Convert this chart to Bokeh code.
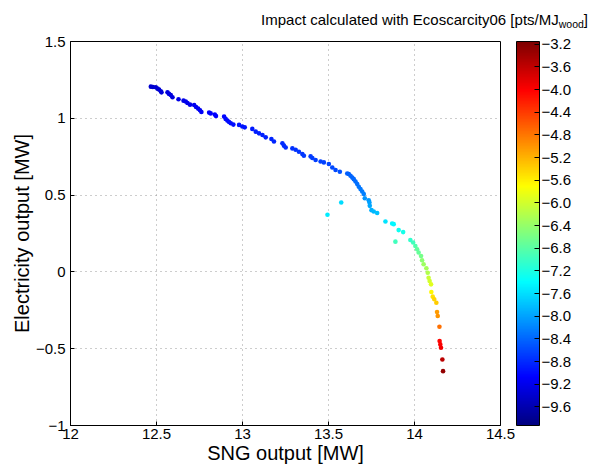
import numpy as np
from bokeh.plotting import figure
from bokeh.layouts import column
from bokeh.models import (ColumnDataSource, LinearColorMapper, ColorBar, FixedTicker,
                          CustomJSTickFormatter, Range1d, Div)
from bokeh.transform import transform
from bokeh.embed import file_html
from bokeh.resources import INLINE

# ---------------- data ----------------
sng_output = [
    12.467, 12.479, 12.496, 12.506, 12.515, 12.525, 12.529, 12.564, 12.573, 12.583,
    12.593, 12.628, 12.657, 12.670, 12.680, 12.695, 12.719, 12.730, 12.742, 12.753,
    12.761, 12.806, 12.815, 12.839, 12.846, 12.893, 12.902, 12.912, 12.922, 12.932,
    12.947, 12.980, 12.999, 13.013, 13.057, 13.077, 13.096, 13.116, 13.135, 13.168,
    13.183, 13.232, 13.241, 13.251, 13.290, 13.309, 13.328, 13.348, 13.357, 13.396,
    13.406, 13.425, 13.454, 13.473, 13.502, 13.522, 13.541, 13.566, 13.609, 13.618,
    13.628, 13.638, 13.647, 13.657, 13.667, 13.676, 13.686, 13.696, 13.705, 13.711,
    13.734, 13.738, 13.740, 13.750, 13.763, 13.783, 13.831, 13.870, 13.879, 13.908,
    13.934, 13.494, 13.574, 13.889, 13.976, 13.992, 14.005, 14.015, 14.024, 14.038,
    14.044, 14.053, 14.069, 14.077, 14.082, 14.088, 14.096, 14.098, 14.106, 14.115,
    14.127, 14.131, 14.135, 14.145, 14.146, 14.150, 14.154, 14.162, 14.166,
]
electricity_output = [
    1.206, 1.204, 1.202, 1.193, 1.187, 1.176, 1.169, 1.169, 1.159, 1.152,
    1.137, 1.124, 1.115, 1.109, 1.100, 1.089, 1.087, 1.074, 1.063, 1.052,
    1.041, 1.037, 1.032, 1.024, 1.015, 1.011, 0.996, 0.985, 0.976, 0.968,
    0.959, 0.957, 0.947, 0.941, 0.931, 0.913, 0.902, 0.891, 0.876, 0.865,
    0.849, 0.837, 0.822, 0.810, 0.804, 0.795, 0.782, 0.767, 0.756, 0.752,
    0.741, 0.728, 0.719, 0.713, 0.702, 0.680, 0.663, 0.652, 0.641, 0.637,
    0.626, 0.615, 0.604, 0.589, 0.572, 0.554, 0.539, 0.523, 0.507, 0.480,
    0.467, 0.452, 0.430, 0.402, 0.393, 0.383, 0.328, 0.315, 0.311, 0.272,
    0.259, 0.372, 0.452, 0.197, 0.208, 0.191, 0.169, 0.148, 0.126, 0.104,
    0.076, 0.050, 0.024, -0.005, -0.038, -0.059, -0.081, -0.131, -0.161, -0.178,
    -0.201, -0.261, -0.287, -0.357, -0.450, -0.472, -0.494, -0.570, -0.646,
]
impact = [
    -9.40, -9.38, -9.37, -9.36, -9.35, -9.34, -9.33, -9.30, -9.29, -9.28,
    -9.27, -9.24, -9.22, -9.21, -9.20, -9.19, -9.17, -9.16, -9.15, -9.14,
    -9.13, -9.10, -9.09, -9.07, -9.06, -9.03, -9.02, -9.01, -9.00, -8.99,
    -8.98, -8.95, -8.94, -8.93, -8.90, -8.88, -8.87, -8.86, -8.85, -8.83,
    -8.82, -8.79, -8.78, -8.77, -8.75, -8.74, -8.73, -8.72, -8.71, -8.69,
    -8.68, -8.67, -8.65, -8.64, -8.62, -8.60, -8.58, -8.55, -8.45, -8.44,
    -8.42, -8.40, -8.38, -8.36, -8.34, -8.31, -8.28, -8.25, -8.22, -8.10,
    -8.05, -8.00, -7.95, -7.90, -7.85, -7.80, -7.55, -7.45, -7.42, -7.30,
    -7.25, -7.50, -7.60, -6.95, -7.05, -6.95, -6.85, -6.75, -6.70, -6.60,
    -6.45, -6.35, -6.30, -6.20, -6.05, -6.00, -5.90, -5.65, -5.50, -5.42,
    -5.35, -5.05, -5.00, -4.75, -4.05, -3.98, -3.92, -3.55, -3.30,
]

x_ticks = [12, 12.5, 13, 13.5, 14, 14.5]
y_ticks = [-1, -0.5, 0, 0.5, 1, 1.5]
cbar_ticks = [-9.6, -9.2, -8.8, -8.4, -8.0, -7.6, -7.2, -6.8, -6.4, -6.0,
              -5.6, -5.2, -4.8, -4.4, -4.0, -3.6, -3.2]
cbar_low, cbar_high = -9.93, -3.15

title_text = "Impact calculated with Ecoscarcity06 [pts/MJ"
title_sub = "wood"
title_end = "]"

# ---------------- jet colormap ----------------
def jet(n=256):
    cols = []
    for i in range(n):
        f = i / (n - 1)
        r = np.clip(1.5 - abs(4 * f - 3), 0, 1)
        g = np.clip(1.5 - abs(4 * f - 2), 0, 1)
        b = np.clip(1.5 - abs(4 * f - 1), 0, 1)
        cols.append("#%02x%02x%02x" % (int(r * 255), int(g * 255), int(b * 255)))
    return cols

palette = jet()
mapper = LinearColorMapper(palette=palette, low=cbar_low, high=cbar_high)
source = ColumnDataSource(dict(x=sng_output, y=electricity_output, c=impact))

FONT = "Liberation Sans"
W = 591
TITLE_H = 30
FRAME_TOP = 41

# ---------------- title strip (HTML text, with a real subscript) ----------------
title_html = (
    '<div style="font-family:\'Liberation Sans\',Arial,sans-serif;font-size:15px;'
    'color:#000;text-align:right;width:588px;margin:0;padding-top:11px;'
    'line-height:18px;white-space:nowrap;">'
    + title_text
    + '<span style="font-size:10.5px;vertical-align:-3px;line-height:0;">'
    + title_sub + '</span>' + title_end + '</div>'
)
tdiv = Div(text=title_html, width=W, height=TITLE_H, margin=0)

# ---------------- main plot ----------------
p = figure(width=W, height=466 - TITLE_H, output_backend="svg", toolbar_location=None,
           x_range=Range1d(12, 14.5), y_range=Range1d(-1, 1.5),
           min_border_left=70, min_border_right=91, min_border_top=FRAME_TOP - TITLE_H,
           min_border_bottom=41)
p.background_fill_color = "white"
p.border_fill_color = "white"
p.outline_line_color = "black"
p.outline_line_width = 1

p.scatter("x", "y", source=source, size=4.6, marker="circle",
          fill_color=transform("c", mapper), line_color=None)

fmt = CustomJSTickFormatter(code="return String(tick).replace('-', '\u2212');")
for ax, ticks in ((p.xaxis[0], x_ticks), (p.yaxis[0], y_ticks)):
    ax.ticker = FixedTicker(ticks=ticks)
    ax.formatter = fmt
    ax.major_label_text_font = FONT
    ax.major_label_text_font_size = "15px"
    ax.major_label_text_color = "black"
    ax.axis_label_text_font = FONT
    ax.axis_label_text_font_size = "20px"
    ax.axis_label_text_font_style = "normal"
    ax.axis_label_text_color = "black"
    ax.axis_line_color = "black"
    ax.major_tick_line_color = "black"
    ax.major_tick_in = 4
    ax.major_tick_out = 0
    ax.minor_tick_line_color = None
p.xaxis.axis_label = "SNG output [MW]"
p.yaxis.axis_label = "Electricity output [MW]"
p.xaxis.major_label_standoff = 3
p.xaxis.axis_label_standoff = 0
p.yaxis.major_label_standoff = 5
p.yaxis.axis_label_standoff = 0

for g in (p.xgrid[0], p.ygrid[0]):
    g.grid_line_color = "#9a9a9a"
    g.grid_line_dash = "1 4"
    g.grid_line_width = 1
p.xgrid.ticker = FixedTicker(ticks=x_ticks)
p.ygrid.ticker = FixedTicker(ticks=y_ticks)

cb_fmt = CustomJSTickFormatter(code="return tick.toFixed(1).replace('-', '\u2212');")
color_bar = ColorBar(color_mapper=mapper, ticker=FixedTicker(ticks=cbar_ticks),
                     formatter=cb_fmt, width=23, padding=0, margin=0,
                     location=(16, 0),
                     bar_line_color="black", bar_line_width=1,
                     major_tick_line_color="black", major_tick_in=5, major_tick_out=0,
                     major_label_text_font=FONT, major_label_text_font_size="15px",
                     major_label_text_color="black", label_standoff=2,
                     background_fill_color=None, border_line_color=None)
p.add_layout(color_bar, "right")

layout = column(tdiv, p, spacing=0)
open("out.html", "w").write(file_html(layout, INLINE))
